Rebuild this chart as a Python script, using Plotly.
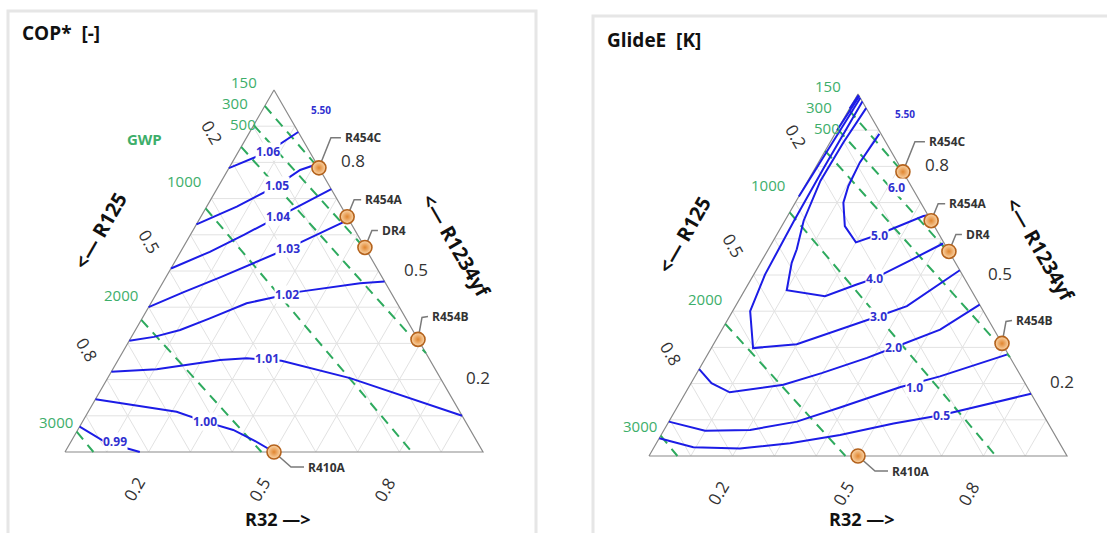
import numpy as np
import plotly.graph_objects as go

# ---------------- data: compositions as fractions (R32, R1234yf); R125 = 1 - R32 - R1234yf
cop_levels = ["1.06", "1.05", "1.04", "1.03", "1.02", "1.01", "1.00", "0.99"]
cop_r32 = [
    [0.0, 0.035, 0.072, 0.116],
    [0.0, 0.072, 0.139, 0.173, 0.205],
    [0.0, 0.070, 0.128, 0.185, 0.274],
    [0.0, 0.062, 0.131, 0.193, 0.253, 0.357],
    [0.0, 0.054, 0.107, 0.162, 0.229, 0.3135, 0.341, 0.473, 0.529],
    [0.0, 0.105, 0.244, 0.305, 0.392, 0.580, 0.900],
    [0.0, 0.125, 0.2115, 0.293, 0.372, 0.434, 0.500],
    [0.0, 0.076, 0.130, 0.179],
]
cop_yf = [
    [0.784, 0.805, 0.830, 0.884],
    [0.629, 0.678, 0.735, 0.779, 0.795],
    [0.507, 0.553, 0.600, 0.650, 0.726],
    [0.400, 0.441, 0.483, 0.525, 0.563, 0.641],
    [0.3075, 0.318, 0.337, 0.369, 0.411, 0.434, 0.443, 0.466, 0.471],
    [0.222, 0.2285, 0.254, 0.259, 0.252, 0.204, 0.100],
    [0.1456, 0.125, 0.111, 0.084, 0.061, 0.033, 0.0],
    [0.070, 0.031, 0.014, 0.0],
]
cop_label_r32 = [0.0716, 0.139, 0.185, 0.253, 0.3135, 0.353, 0.293, 0.1054]
cop_label_yf = [0.8296, 0.735, 0.650, 0.563, 0.434, 0.2588, 0.0837, 0.0285]

glide_segment_levels = ["0.5", "0.5", "1.0", "1.0", "2.0", "2.0", "3.0", "4.0", "5.0", "6.0"]
glide_r32 = [
    [0.0, 0.094, 0.207, 0.320, 0.428, 0.540, 0.644, 0.828],
    [0.0, 0.003],
    [0.0, 0.099, 0.206, 0.306, 0.390, 0.505, 0.586, 0.716],
    [0.0, 0.006],
    [0.0, 0.049, 0.105, 0.223, 0.2985, 0.386, 0.435, 0.522, 0.582],
    [0.0, 0.005, 0.011],
    [0.021, 0.020, 0.022, 0.024, 0.027, 0.042, 0.100, 0.199, 0.2825, 0.3557, 0.410, 0.487],
    [0.039, 0.032, 0.030, 0.045, 0.068, 0.0745, 0.1005, 0.2004, 0.260, 0.293, 0.354, 0.410],
    [0.106, 0.099, 0.104, 0.115, 0.151, 0.200, 0.243, 0.325, 0.335],
    [0.197, 0.2075, 0.2185],
]
glide_yf = [
    [0.049, 0.024, 0.021, 0.035, 0.058, 0.090, 0.113, 0.172],
    [0.960, 0.997],
    [0.095, 0.070, 0.072, 0.095, 0.134, 0.190, 0.220, 0.280],
    [0.900, 0.994],
    [0.240, 0.201, 0.176, 0.197, 0.229, 0.271, 0.299, 0.349, 0.418],
    [0.717, 0.850, 0.989],
    [0.979, 0.800, 0.650, 0.571, 0.501, 0.400, 0.298, 0.309, 0.349, 0.386, 0.414, 0.513],
    [0.961, 0.866, 0.760, 0.650, 0.571, 0.5337, 0.458, 0.4413, 0.4737, 0.490, 0.540, 0.587],
    [0.890, 0.811, 0.746, 0.700, 0.635, 0.590, 0.612, 0.663, 0.665],
    [0.794, 0.778, 0.7815],
]
glide_label_text = ["6.0", "5.0", "4.0", "3.0", "2.0", "1.0", "0.5"]
glide_label_r32 = [0.2207, 0.2465, 0.2934, 0.3557, 0.435, 0.542, 0.644]
glide_label_yf = [0.7404, 0.609, 0.4898, 0.3859, 0.2989, 0.1884, 0.1125]

stray_label_text = "5.50"
stray_label_r32 = 0.139
stray_label_yf = 0.945

gwp_values = ["150", "300", "500", "1000", "2000", "3000"]
gwp_r32_start = [0.0, 0.0, 0.0, 0.0, 0.0, 0.0]
gwp_yf_start = [0.956, 0.903, 0.843, 0.673, 0.365, 0.056]
gwp_r32_end = [0.220, 0.443, 0.727, 0.830, 0.470, 0.068]
gwp_yf_end = [0.780, 0.557, 0.273, 0.0, 0.0, 0.0]

refrigerants = ["R454C", "R454A", "DR4", "R454B", "R410A"]
ref_r32 = [0.215, 0.350, 0.435, 0.689, 0.500]
ref_yf = [0.785, 0.650, 0.565, 0.311, 0.0]

tick_values = [0.2, 0.5, 0.8]
tick_text = ["0.2", "0.5", "0.8"]
grid_values = [0.1, 0.2, 0.3, 0.4, 0.5, 0.6, 0.7, 0.8, 0.9]

# ---------------- style
PX = 418.0            # pixels per data unit (triangle side)
S3 = np.sqrt(3) / 2
FONT = "Open Sans"
BLUE_LINE = "#1c1ce6"
BLUE_TEXT = "#3030d0"
GREEN = "#2eaa5e"
GREEN_TEXT = "#3dae6a"
GRID = "#e2e2e2"
EDGE = "#8a8a8a"
DARK = "#333333"

# pixel offsets (right, down) of leader elbow, leader end, label left
leader_px = {
    "R454C": [(12, -30), (22, -30), 25],
    "R454A": [(7, -17), (14, -17), 17],
    "DR4": [(7, -17), (13, -17), 16],
    "R454B": [(4, -22), (10, -23), 13],
    "R410A": [(17, 15), (30, 15), 33],
}
gwp_label_shift = [(-7, 24), (-5, 22), (16, 23), (-4, 27), (-2, 25), (-3, 10)]


def xy(r32, yf):
    r32 = np.asarray(r32, float)
    yf = np.asarray(yf, float)
    return r32 + yf / 2, yf * S3


fig = go.Figure()
annotations = []
shapes = []


def add_text(xr, yr, x, y, text, size, color, bold=False, angle=0, xanchor="center",
             yanchor="middle", xshift=0, yshift=0, bg=None):
    annotations.append(dict(
        xref=xr, yref=yr, x=float(x), y=float(y), text=("<b>%s</b>" % text) if bold else text,
        showarrow=False, textangle=angle, xanchor=xanchor, yanchor=yanchor,
        xshift=xshift, yshift=yshift, font=dict(family=FONT, size=size, color=color),
        bgcolor=bg, borderpad=0))


def draw_panel(xa, ya, cont_r32, cont_yf, lab_text, lab_r32, lab_yf, show_gwp_word, r32_title_shift):
    xr, yr = xa, ya
    # grid
    gx, gy = [], []
    for v in grid_values:
        for (a, b) in [((0, v), (1 - v, v)), ((v, 0), (v, 1 - v)), ((1 - v, 0), (0, 1 - v))]:
            x0, y0 = xy(a[0], a[1])
            x1, y1 = xy(b[0], b[1])
            gx += [x0, x1, None]
            gy += [y0, y1, None]
    fig.add_trace(go.Scatter(x=gx, y=gy, mode="lines", line=dict(color=GRID, width=1),
                             hoverinfo="skip", showlegend=False, xaxis=xa, yaxis=ya))
    # edges
    ex, ey = xy([0, 1, 0, 0], [0, 0, 1, 0])
    fig.add_trace(go.Scatter(x=ex, y=ey, mode="lines", line=dict(color=EDGE, width=1.2),
                             hoverinfo="skip", showlegend=False, xaxis=xa, yaxis=ya))
    # GWP lines
    for i, g in enumerate(gwp_values):
        lx, ly = xy([gwp_r32_start[i], gwp_r32_end[i]], [gwp_yf_start[i], gwp_yf_end[i]])
        fig.add_trace(go.Scatter(x=lx, y=ly, mode="lines",
                                 line=dict(color=GREEN, width=2, dash="10px,7px"),
                                 hoverinfo="skip", showlegend=False, xaxis=xa, yaxis=ya))
        sx, sy = gwp_label_shift[i]
        add_text(xr, yr, lx[0], ly[0], g, 15, GREEN_TEXT, xanchor="right", xshift=sx, yshift=sy)
    if show_gwp_word:
        add_text(xr, yr, 0.19, 0.75, "GWP", 15, GREEN_TEXT, bold=True)
    # contours
    for r, y in zip(cont_r32, cont_yf):
        cx, cy = xy(r, y)
        fig.add_trace(go.Scatter(x=cx, y=cy, mode="lines", line=dict(color=BLUE_LINE, width=2),
                                 hoverinfo="skip", showlegend=False, xaxis=xa, yaxis=ya))
    for t, r, y in zip(lab_text, lab_r32, lab_yf):
        px_, py_ = xy(r, y)
        add_text(xr, yr, px_, py_, t, 12, BLUE_TEXT, bold=True, bg="white")
    sx_, sy_ = xy(stray_label_r32, stray_label_yf)
    add_text(xr, yr, sx_, sy_, stray_label_text, 10, BLUE_TEXT, bold=True)
    # refrigerant markers + leaders
    for name, r, y in zip(refrigerants, ref_r32, ref_yf):
        mx, my = xy(r, y)
        (e1, e2, tl) = leader_px[name]
        lxs = [mx, mx + e1[0] / PX, mx + e2[0] / PX]
        lys = [my, my - e1[1] / PX, my - e2[1] / PX]
        fig.add_trace(go.Scatter(x=lxs, y=lys, mode="lines", line=dict(color="#7a7a7a", width=1.5),
                                 hoverinfo="skip", showlegend=False, xaxis=xa, yaxis=ya))
        add_text(xr, yr, mx + tl / PX, my - e2[1] / PX, name, 12, DARK, bold=True, xanchor="left")
    mxs, mys = xy(ref_r32, ref_yf)
    fig.add_trace(go.Scatter(x=mxs, y=mys, mode="markers",
                             marker=dict(size=14, color="#fbd7ab",
                                         gradient=dict(type="radial", color="#e0852f"),
                                         line=dict(color="#b4621c", width=1.6)),
                             hoverinfo="skip", showlegend=False, xaxis=xa, yaxis=ya))
    # tick labels
    for v, t in zip(tick_values, tick_text):
        x0, y0 = xy(0, 1 - v)            # R125 on left edge
        add_text(xr, yr, x0, y0, t, 17, DARK, angle=60, xshift=-20, yshift=30)
        x1, y1 = xy(v, 0)                # R32 on bottom edge
        add_text(xr, yr, x1, y1, t, 17, DARK, angle=-60, xshift=-15, yshift=-37)
        x2, y2 = xy(1 - v, v)            # R1234yf on right edge
        add_text(xr, yr, x2, y2, t, 17, DARK, xshift=37, yshift=2)
    # axis titles
    x0, y0 = xy(0, 0.5)
    add_text(xr, yr, x0, y0, "&lt;\u2014 R125", 20, "#111", bold=True, angle=-60, xshift=-70, yshift=40)
    x1, y1 = xy(0.5, 0.5)
    add_text(xr, yr, x1, y1, "&lt;\u2014 R1234yf", 20, "#111", bold=True, angle=60, xshift=78, yshift=26)
    x2, y2 = xy(0.5, 0)
    add_text(xr, yr, x2, y2, "R32 \u2014&gt;", 18, "#111", bold=True, xshift=3, yshift=r32_title_shift)


draw_panel("x", "y", cop_r32, cop_yf, cop_levels, cop_label_r32, cop_label_yf, True, -67)
draw_panel("x2", "y2", glide_r32, glide_yf, glide_label_text, glide_label_r32, glide_label_yf, False, -63)

W, H = 1107, 533
annotations.append(dict(xref="paper", yref="paper", x=20 / W, y=1 - 33 / H, text="<b>COP*&nbsp; [-]</b>",
                        showarrow=False, xanchor="left", yanchor="middle",
                        font=dict(family=FONT, size=19, color="#111")))
annotations.append(dict(xref="paper", yref="paper", x=605 / W, y=1 - 40 / H, text="<b>GlideE&nbsp; [K]</b>",
                        showarrow=False, xanchor="left", yanchor="middle",
                        font=dict(family=FONT, size=19, color="#111")))
for (x0, x1, ytop) in [(8, 536, 11), (593, 1115, 16)]:
    shapes.append(dict(type="rect", xref="paper", yref="paper", x0=x0 / W, x1=x1 / W,
                       y0=-0.05, y1=1 - ytop / H, line=dict(color="#e6e6e6", width=3),
                       fillcolor="rgba(0,0,0,0)", layer="below"))

ax_common = dict(visible=False, showgrid=False, zeroline=False, fixedrange=True)
fig.update_layout(
    width=W, height=H, margin=dict(l=0, r=0, t=0, b=0), autosize=False,
    paper_bgcolor="white", plot_bgcolor="white", showlegend=False,
    xaxis=dict(domain=[0, 0.5], range=[-65 / PX, 488.5 / PX], anchor="y", **ax_common),
    yaxis=dict(domain=[0, 1], range=[-81 / PX, 452 / PX], anchor="x", **ax_common),
    xaxis2=dict(domain=[0.5, 1], range=[-95.5 / PX, 458 / PX], anchor="y2", **ax_common),
    yaxis2=dict(domain=[0, 1], range=[-77 / PX, 456 / PX], anchor="x2", **ax_common),
    annotations=annotations, shapes=shapes,
)
fig.write_html("out.html", config={"displayModeBar": False},
               post_script="document.body.style.margin='0px';document.body.style.overflow='hidden';")
